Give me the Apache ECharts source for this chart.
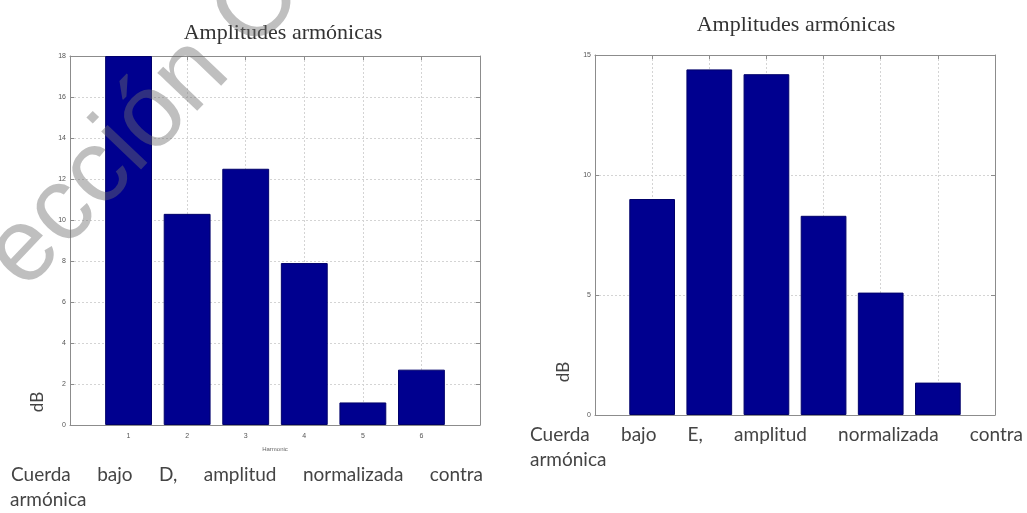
<!DOCTYPE html>
<html>
<head>
<meta charset="utf-8">
<script src="https://cdn.jsdelivr.net/npm/echarts@6/dist/echarts.min.js"></script>
<style>
  html, body { margin: 0; padding: 0; background: #fff; }
  #chart { width: 1027px; height: 513px; }
</style>
</head>
<body>
<div id="chart"></div>
<script>
// Harmonic numbers shown on both plots
const harmonics = ['1', '2', '3', '4', '5', '6'];
// Normalised amplitude (dB) per harmonic, low D string
const ampD = [18, 10.3, 12.5, 7.9, 1.1, 2.7];
// Normalised amplitude (dB) per harmonic, low E string
const ampE = [9.0, 14.4, 14.2, 8.3, 5.1, 1.35];

const chartTitle = 'Amplitudes armónicas';
const yName = 'dB';
const xNameD = 'Harmonic';
const captionD = ['Cuerda bajo D, amplitud normalizada contra', 'armónica'];
const captionE = ['Cuerda bajo E, amplitud normalizada contra', 'armónica'];
const watermarkText = 'ección C';

// x range runs from 0 to 7 with the bars sitting on 1..6
const xCats = [''].concat(harmonics, ['']);
const pad = arr => ['-'].concat(arr, ['-']);

const BAR = '#00008f';
const AXIS = '#8c8c8c';
const GRID = '#d4d4d4';
const TICK_TXT = '#555';

const chart = echarts.init(document.getElementById('chart'), null, { renderer: 'canvas' });

function xAxisDef(gridIndex, pos, showLabels, name) {
  return {
    type: 'category', gridIndex, position: pos, data: xCats, boundaryGap: false,
    axisLine: { show: true, onZero: false, lineStyle: { color: AXIS, width: 1 } },
    axisTick: { show: true, inside: true, length: 4, interval: 0, lineStyle: { color: AXIS } },
    axisLabel: { show: showLabels, interval: 0, fontSize: 7, color: TICK_TXT, margin: 8, fontFamily: 'Liberation Sans' },
    splitLine: { show: pos === 'bottom', interval: 0, lineStyle: { color: GRID, type: [2, 2], width: 1 } },
    name: name || '', nameLocation: 'middle', nameGap: 21,
    nameTextStyle: { fontSize: 6, color: '#666', fontFamily: 'Liberation Sans' }
  };
}
function yAxisDef(gridIndex, pos, max, step, showLabels) {
  return {
    type: 'value', gridIndex, position: pos, min: 0, max, interval: step,
    axisLine: { show: true, lineStyle: { color: AXIS, width: 1 } },
    axisTick: { show: true, inside: true, length: 4, lineStyle: { color: AXIS } },
    axisLabel: { show: showLabels, fontSize: 7, color: TICK_TXT, margin: 4, fontFamily: 'Liberation Sans' },
    splitLine: { show: pos === 'left', lineStyle: { color: GRID, type: [2, 2], width: 1 } }
  };
}

// Lay out a caption line with words spread to fill the given width
const measureCtx = document.createElement('canvas').getContext('2d');
function captionLine(text, x0, x1, y, size, justify) {
  const font = size + 'px Lato';
  measureCtx.font = font;
  const words = text.split(' ');
  const widths = words.map(w => measureCtx.measureText(w).width);
  const total = widths.reduce((a, b) => a + b, 0);
  const gap = justify && words.length > 1 ? (x1 - x0 - total) / (words.length - 1) : measureCtx.measureText(' ').width;
  let x = x0;
  return words.map((w, i) => {
    const el = {
      type: 'text', x, y,
      style: { text: w, font, fill: '#444', textVerticalAlign: 'middle', textAlign: 'left' }
    };
    x += widths[i] + gap;
    return el;
  });
}

const titleFont = '22px "Liberation Serif"';
const graphics = [].concat(
  [
    { type: 'text', x: 283, y: 33, style: { text: chartTitle, font: titleFont, fill: '#333', textAlign: 'center', textVerticalAlign: 'middle' } },
    { type: 'text', x: 796, y: 25, style: { text: chartTitle, font: titleFont, fill: '#333', textAlign: 'center', textVerticalAlign: 'middle' } },
    { type: 'text', x: 38, y: 402, rotation: Math.PI / 2, style: { text: yName, font: '17px Lato', fill: '#444', textAlign: 'center', textVerticalAlign: 'middle' } },
    { type: 'text', x: 564, y: 372, rotation: Math.PI / 2, style: { text: yName, font: '17px Lato', fill: '#444', textAlign: 'center', textVerticalAlign: 'middle' } }
  ],
  captionLine(captionD[0], 11, 483, 475, 19, true),
  captionLine(captionD[1], 10, 483, 500, 19, false),
  captionLine(captionE[0], 530, 1023, 435, 19, true),
  captionLine(captionE[1], 530, 1023, 460, 19, false),
  [
    { type: 'text', x: 4, y: 272, rotation: 0.81, z: 100,
      style: { text: watermarkText, font: '104px "Liberation Sans"', fill: 'rgba(110,110,110,0.44)', textAlign: 'left', textVerticalAlign: 'middle' } }
  ]
);

chart.setOption({
  animation: false,
  backgroundColor: '#ffffff',
  grid: [
    { left: 70, top: 56, width: 410, height: 369, containLabel: false },
    { left: 595, top: 55, width: 400, height: 360, containLabel: false }
  ],
  xAxis: [
    xAxisDef(0, 'bottom', true, xNameD),
    xAxisDef(0, 'top', false),
    xAxisDef(1, 'bottom', false),
    xAxisDef(1, 'top', false)
  ],
  yAxis: [
    yAxisDef(0, 'left', 18, 2, true),
    yAxisDef(0, 'right', 18, 2, false),
    yAxisDef(1, 'left', 15, 5, true),
    yAxisDef(1, 'right', 15, 5, false)
  ],
  series: [
    { type: 'bar', xAxisIndex: 0, yAxisIndex: 0, data: pad(ampD), barWidth: '80%',
      itemStyle: { color: BAR, borderColor: '#00006a', borderWidth: 1 } },
    { type: 'bar', xAxisIndex: 2, yAxisIndex: 2, data: pad(ampE), barWidth: '80%',
      itemStyle: { color: BAR, borderColor: '#00006a', borderWidth: 1 } }
  ],
  graphic: graphics
});
</script>
</body>
</html>
